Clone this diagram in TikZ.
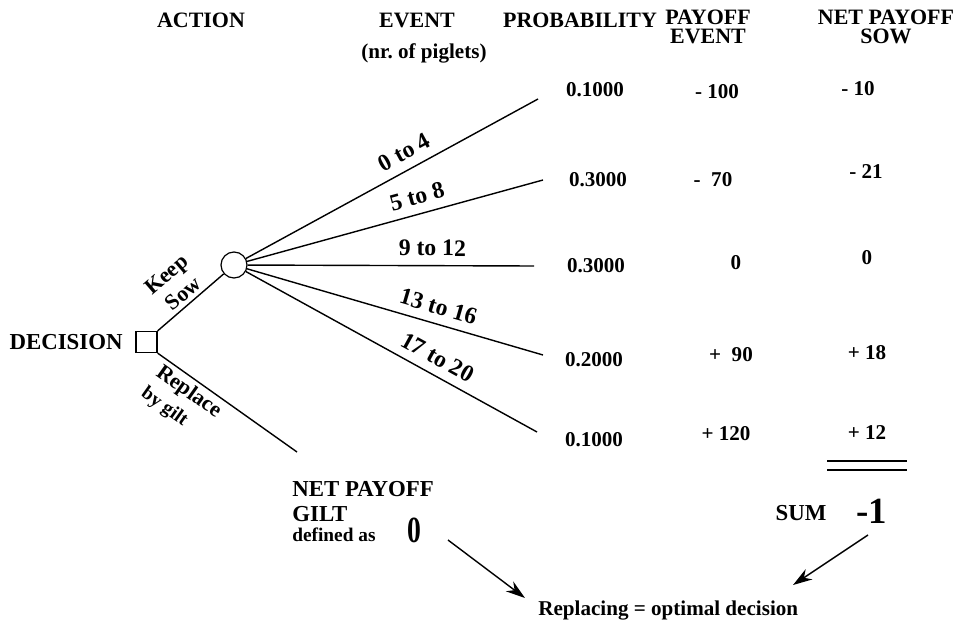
\documentclass[tikz,border=0pt]{standalone}
\usepackage{fontspec}
\setmainfont{Liberation Serif}
\usetikzlibrary{arrows.meta,positioning}
\tikzset{
    >={Stealth[length=11pt,width=7pt]},
    header/.style={
        font=\fontsize{12.5}{10.5}\selectfont\bfseries,
        align=center,
        inner sep=0pt
    },
    numtext/.style={font=\fontsize{12}{13}\selectfont\bfseries, inner sep=0pt},
    branch/.style={
        font=\fontsize{13.5}{14}\selectfont\bfseries,
        sloped, above,
        inner sep=5pt
    },
    armlabel/.style={
        font=\fontsize{12.5}{14.5}\selectfont\bfseries,
        sloped,
        inner sep=2pt
    },
    decbox/.style={rectangle, draw, line width=0.7pt, minimum size=0.42cm, inner sep=0pt},
    chancenode/.style={circle, draw, line width=0.7pt, minimum size=0.52cm, inner sep=0pt},
    line/.style={draw, line width=0.8pt},
    bigval/.style={font=\fontsize{21}{21}\selectfont\bfseries, inner sep=0pt}
}
\begin{document}
\begin{tikzpicture}[x=0.02cm, y=-0.02cm]
    \useasboundingbox (0,0) rectangle (964,625);

    % -- column heads -- %
    \node[header] (action) at (201,20) {ACTION};
    \node[header] (event) at (417,20) {EVENT};
    \node[numtext] (piglets) at (424,53) {(nr.\ of piglets)};
    \node[header] (prob) at (580,20) {PROBABILITY};
    \node[header] (payevent) at (708,27) {PAYOFF\\EVENT};
    \node[header] (netsow) at (886,27) {NET PAYOFF\\SOW};

    % -- tree -- %
    \node[decbox] (dec) at (146.5,342) {};
    \node[chancenode] (chance) at (234,265) {};
    \node[header, font=\fontsize{13}{14}\selectfont\bfseries, left=0.25cm of dec] (decision) {DECISION};

    \coordinate (gend) at (297,452);
    \coordinate (e1) at (538,99);
    \coordinate (e2) at (543,180);
    \coordinate (e3) at (534,266);
    \coordinate (e4) at (543,355);
    \coordinate (e5) at (537,432);

    \draw[line] (dec.north east) -- (chance)
        node[armlabel, midway, above, align=center] {Keep\\Sow};
    \draw[line] (dec.south east) -- (gend)
        node[armlabel, pos=0.28, below, align=left] {Replace\\{\fontsize{11}{12}\selectfont by gilt}};

    \draw[line] (chance) -- (e1) node[branch, pos=0.57] {0 to 4};
    \draw[line] (chance) -- (e2) node[branch, pos=0.59] {5 to 8};
    \draw[line] (chance) -- (e3) node[branch, pos=0.645] {9 to 12};
    \draw[line] (chance) -- (e4) node[branch, pos=0.63] {13 to 16};
    \draw[line] (chance) -- (e5) node[branch, pos=0.63] {17 to 20};

    % -- table -- %
    \node[numtext] (p1) at (595,90) {0.1000};
    \node[numtext] (p2) at (598,180) {0.3000};
    \node[numtext] (p3) at (596,266) {0.3000};
    \node[numtext] (p4) at (594,360) {0.2000};
    \node[numtext] (p5) at (594,440) {0.1000};

    \node[numtext] (v1) at (717,92) {- 100};
    \node[numtext] (v2) at (713,180) {-~~70};
    \node[numtext] (v3) at (736,263) {0};
    \node[numtext] (v4) at (731,355) {+~~90};
    \node[numtext] (v5) at (726,434) {+ 120};

    \node[numtext] (n1) at (858,89) {- 10};
    \node[numtext] (n2) at (866,172) {- 21};
    \node[numtext] (n3) at (867,258) {0};
    \node[numtext] (n4) at (867,353) {+ 18};
    \node[numtext] (n5) at (867,433) {+ 12};

    \draw[line width=0.6pt] (827,461) -- (907,461);
    \draw[line width=0.6pt] (827,470) -- (907,470);

    % -- outcome -- %
    \node[header, anchor=north west, align=left, font=\fontsize{13}{14}\selectfont\bfseries] (gilt) at (292,481) {NET PAYOFF\\GILT};
    \node[anchor=north west, inner sep=0pt, font=\fontsize{11}{12}\selectfont\bfseries] (defas) at (292,528) {defined as};
    \node[bigval, xscale=0.75] (zero) at (414,530) {0};
    \node[header, font=\fontsize{13}{14}\selectfont\bfseries] (sum) at (801,513) {SUM};
    \node[bigval] (sumval) at (872,511) {-1};
    \node[numtext, anchor=west] (optimal) at (538,611) {Replacing = optimal decision};

    \coordinate (z1) at (448,540);
    \coordinate (z2) at (525,598);
    \coordinate (s1) at (868,535);
    \coordinate (s2) at (793,585);
    \draw[line, ->] (z1) -- (z2);
    \draw[line, ->] (s1) -- (s2);
\end{tikzpicture}
\end{document}
